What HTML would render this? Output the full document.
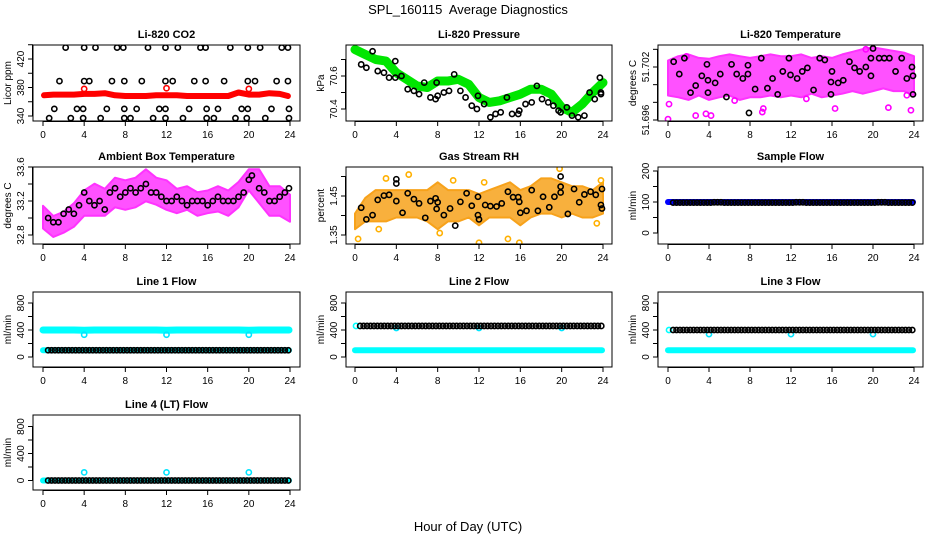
<!DOCTYPE html>
<html><head><meta charset="utf-8"><style>
html,body{margin:0;padding:0;background:#fff}
svg{display:block;font-family:"Liberation Sans",sans-serif}
</style></head><body>
<svg id="chart" width="936" height="540" viewBox="0 0 936 540" xmlns="http://www.w3.org/2000/svg">
<rect x="0" y="0" width="936" height="540" fill="#fff"/>
<text x="468" y="14" text-anchor="middle" font-size="13">SPL_160115&#160; Average Diagnostics</text>
<text x="468" y="531" text-anchor="middle" font-size="13">Hour of Day (UTC)</text>
</svg>
<script>
// ---------- data ----------
const xTicks = [0,4,8,12,16,20,24];
const bandHours = [0,1,2,3,4,5,6,7,8,9,10,11,12,13,14,15,16,17,18,19,20,21,22,23,24];

const co2BlackHours = [2.2,4,5.1,7.2,7.8,10.2,11.9,13.1,15.3,15.8,18.2,19.9,21.1,23.2,23.8, 1.6,4,4.5,6.7,7.9,9.6,11.9,12.6,14.7,15.8,17.6,19.9,20.6,22.7,23.8, 1.1,3.3,3.9,6.2,7.9,9.1,11.3,11.9,14.2,15.9,17,19.3,19.9,22.2,23.9, 0.6,2.7,3.9,5.6,7.9,8.5,10.7,11.9,13.6,15.9,16.6,18.7,19.8,21.6,23.9];
const co2BlackVals = [436,436,436,436,436,436,436,436,436,436,436,436,436,436,436, 389,389,389,389,389,389,389,389,389,389,389,389,389,389,389, 350,350,350,350,350,350,350,350,350,350,350,350,350,350,350, 337,337,337,337,337,337,337,337,337,337,337,337,337,337,337];
const co2RedVals = [369,370,370,370,371,371,372,369,368,368,368,369,369,369,368,368,368,368,368,373,370,370,372,371,368];
const co2RedSpotHours = [4,12,20];
const co2RedSpotVals = [378,379,378];

const presGreenVals = [70.76,70.73,70.70,70.69,70.62,70.58,70.54,70.53,70.57,70.57,70.58,70.55,70.47,70.44,70.45,70.47,70.49,70.52,70.52,70.49,70.41,70.38,70.43,70.50,70.56];
const presBlackHours = [0.6,1.1,1.7,2.2,2.8,3.3,3.9,3.9,4.5,5.1,5.7,6.2,6.7,7.3,7.8,7.9,8.0,8.6,9.1,9.6,10.2,10.7,11.3,11.8,11.9,12.5,13.1,13.6,14.1,14.7,15.2,15.8,15.9,16.5,17.1,17.6,18.1,18.7,19.2,19.7,19.9,20.5,21.0,21.6,22.2,22.7,23.2,23.7,23.8,23.8];
const presBlackVals = [70.67,70.65,70.75,70.63,70.62,70.59,70.59,70.69,70.60,70.52,70.51,70.49,70.56,70.47,70.46,70.56,70.48,70.50,70.51,70.61,70.51,70.47,70.42,70.40,70.48,70.43,70.35,70.37,70.38,70.47,70.37,70.37,70.39,70.43,70.44,70.54,70.46,70.44,70.42,70.39,70.38,70.41,70.36,70.35,70.36,70.50,70.46,70.59,70.49,70.50];

const tempUpper = [51.7025,51.7030,51.7032,51.7028,51.7027,51.7030,51.7032,51.7030,51.7028,51.7030,51.7032,51.7030,51.7030,51.7032,51.7028,51.7030,51.7028,51.7032,51.7035,51.7038,51.7040,51.7038,51.7036,51.7034,51.7030];
const tempLower = [51.6990,51.6988,51.6985,51.6990,51.6985,51.6988,51.6990,51.6985,51.6988,51.6988,51.6990,51.6988,51.6990,51.6988,51.6992,51.6988,51.6990,51.6992,51.6995,51.6992,51.6995,51.6998,51.6995,51.6995,51.6990];
const tempPinkHours = [0.0,0.1,2.7,3.7,4.2,9.2,9.3,16.3,21.5,23.7,19.3,23.3,1.8,6.5,13.5];
const tempPinkVals = [51.6961,51.6978,51.6965,51.6967,51.6965,51.6969,51.6973,51.6973,51.6974,51.6971,51.7040,51.6988,51.7032,51.6982,51.6984];
const tempBlackHours = [0.55,1.1,1.6,2.2,2.7,3.3,3.8,3.9,3.9,4.6,5.1,5.7,6.2,6.7,7.3,7.8,7.9,7.8,8.5,9.1,9.7,10.2,10.7,11.2,11.8,11.95,12.6,13.1,13.6,14.2,14.8,15.3,15.9,15.9,16.0,16.6,17.1,17.7,18.2,18.7,19.3,19.8,19.8,20.0,20.6,21.1,21.6,22.2,22.8,23.3,23.8,23.9,23.9];
const tempBlackVals = [51.7026,51.7012,51.7030,51.6991,51.6999,51.7010,51.7023,51.6991,51.7005,51.7002,51.7012,51.6986,51.7023,51.7012,51.7007,51.7022,51.6968,51.7012,51.6995,51.7030,51.6996,51.7007,51.6989,51.7015,51.7030,51.7011,51.7007,51.7015,51.7019,51.6994,51.7030,51.7028,51.7003,51.6989,51.7015,51.7002,51.7005,51.7026,51.7019,51.7015,51.7020,51.7010,51.7030,51.7041,51.7030,51.7030,51.7030,51.7015,51.7030,51.7007,51.7020,51.7010,51.6989];

const ambUpper = [33.12,33.00,33.05,33.15,33.30,33.38,33.32,33.45,33.42,33.45,33.55,33.45,33.42,33.32,33.35,33.28,33.30,33.35,33.30,33.40,33.55,33.55,33.35,33.35,33.25];
const ambLower = [32.90,32.80,32.85,32.92,33.05,33.05,33.05,33.15,33.12,33.15,33.22,33.18,33.12,33.08,33.12,33.05,33.08,33.10,33.05,33.15,33.35,33.20,33.05,33.05,32.98];
const ambBlackHours = [0.5,1,1.5,2,2.5,3,3.5,4,4.5,5,5.5,6,6.5,7,7.5,8,8.5,9,9.5,10,10.5,11,11.5,12,12.5,13,13.5,14,14.5,15,15.5,16,16.5,17,17.5,18,18.5,19,19.5,20,20.3,21,21.5,22,22.5,23,23.5,23.9];
const ambBlackVals = [33.0,32.95,32.95,33.05,33.1,33.05,33.15,33.3,33.2,33.15,33.2,33.1,33.3,33.35,33.25,33.3,33.35,33.3,33.35,33.4,33.3,33.3,33.25,33.2,33.2,33.25,33.2,33.15,33.2,33.2,33.2,33.15,33.2,33.25,33.2,33.2,33.2,33.25,33.3,33.45,33.5,33.35,33.3,33.2,33.2,33.25,33.3,33.35];

const rhUpper = [1.40,1.44,1.46,1.46,1.46,1.46,1.46,1.46,1.48,1.46,1.46,1.46,1.45,1.46,1.47,1.48,1.46,1.47,1.49,1.49,1.48,1.47,1.47,1.46,1.48];
const rhLower = [1.37,1.39,1.39,1.39,1.40,1.40,1.40,1.39,1.37,1.39,1.39,1.40,1.38,1.40,1.40,1.40,1.38,1.40,1.41,1.41,1.40,1.41,1.40,1.40,1.41];
const rhOrangeHours = [0.3,2.3,3,5.2,8.2,9.5,12,14.8,15.9,19.8,23.4,23.8,12.5];
const rhOrangeVals = [1.34,1.365,1.495,1.505,1.355,1.49,1.33,1.34,1.33,1.52,1.38,1.49,1.485];
const rhBlackHours = [0.6,1.1,1.7,2.2,2.8,3.3,4.0,4.0,4.0,4.6,5.1,5.7,6.2,6.8,7.3,7.8,7.9,8.0,8.6,9.2,9.7,10.2,10.8,11.3,11.9,11.9,12.0,12.6,13.1,13.7,14.2,14.8,15.3,15.8,15.9,16.0,16.6,17.1,17.7,18.2,18.8,19.3,19.9,19.9,19.9,20.6,21.2,21.7,22.2,22.8,23.3,23.8,23.9,23.9];
const rhBlackVals = [1.420,1.390,1.401,1.440,1.451,1.453,1.493,1.482,1.437,1.407,1.457,1.442,1.431,1.394,1.437,1.444,1.417,1.434,1.401,1.418,1.374,1.435,1.457,1.425,1.448,1.401,1.390,1.427,1.424,1.423,1.431,1.461,1.447,1.447,1.435,1.407,1.412,1.465,1.412,1.448,1.421,1.448,1.500,1.474,1.459,1.404,1.468,1.434,1.454,1.461,1.453,1.427,1.468,1.418];

const sampleBlueVals = [100,100,100,100,100,100,100,100,100,100,100,100,100,100,100,100,100,100,100,100,100,100,100,100,100];
const sampleBlackVals = [98,98,98,98,99,98,98,98,98,98,98,98,99,98,98,98,98,98,98,98,99,98,98,98,98];

const line1CyanHigh = [400,400,400,400,395,400,400,400,400,400,400,400,395,400,400,400,400,400,400,400,395,400,400,400,400];
const line1Cyan = [100,100,100,100,100,100,100,100,100,100,100,100,100,100,100,100,100,100,100,100,100,100,100,100,100];
const line1Black = [100,100,100,100,100,100,100,100,100,100,100,100,100,100,100,100,100,100,100,100,100,100,100,100,100];
const line1SpotVals = [330,330,330];
const line2Cyan = [100,100,100,100,100,100,100,100,100,100,100,100,100,100,100,100,100,100,100,100,100,100,100,100,100];
const line2Black = [460,460,460,460,460,460,460,460,460,460,460,460,460,460,460,460,460,460,460,460,460,460,460,460,460];
const line2SpotVals = [430,430,430];
const line3Cyan = [100,100,100,100,100,100,100,100,100,100,100,100,100,100,100,100,100,100,100,100,100,100,100,100,100];
const line3Black = [400,400,400,400,400,400,400,400,400,400,400,400,400,400,400,400,400,400,400,400,400,400,400,400,400];
const line3SpotVals = [340,340,340];
const line4Cyan = [0,0,0,0,0,0,0,0,0,0,0,0,0,0,0,0,0,0,0,0,0,0,0,0,0];
const line4Black = [0,0,0,0,0,0,0,0,0,0,0,0,0,0,0,0,0,0,0,0,0,0,0,0,0];
const line4SpotVals = [120,120,120];
const spotHours = [4,12,20];

// ---------- drawing ----------
const NS = "http://www.w3.org/2000/svg";
const svg = document.getElementById('chart');
function mk(tag, attrs, parent){
  const e = document.createElementNS(NS, tag);
  for (const k in attrs) e.setAttribute(k, attrs[k]);
  (parent || svg).appendChild(e);
  return e;
}
function panel(cfg){
  const g = mk('g', {});
  
  
  const [bx0,bx1,by0,by1] = cfg.box;
  const xs = h => cfg.x0 + (cfg.x24 - cfg.x0) * h / 24;
  const ys = v => cfg.yA + (cfg.yB - cfg.yA) * (v - cfg.vA) / (cfg.vB - cfg.vA);
  const clip = 'clip-' + cfg.name;
  const cp = mk('clipPath', {id: clip}, g);
  mk('rect', {x: bx0, y: by0, width: bx1 - bx0, height: by1 - by0}, cp);
  const plot = mk('g', {'clip-path': 'url(#' + clip + ')'}, g);
  
  
  const box = mk('rect', {x: bx0, y: by0, width: bx1 - bx0, height: by1 - by0, fill: 'none', stroke: '#000', 'stroke-width': 1}, g);
  
  
  const t = mk('text', {x: (bx0 + bx1) / 2, y: by0 - 7, 'text-anchor': 'middle', 'font-size': 11, 'font-weight': 'bold'}, g);
  t.textContent = cfg.title;
  
  
  mk('line', {x1: xs(0), x2: xs(24), y1: by1 + 0.5, y2: by1 + 0.5, stroke: '#000'}, g);
  xTicks.forEach(h => {
    mk('line', {x1: xs(h), x2: xs(h), y1: by1, y2: by1 + 5, stroke: '#000'}, g);
    const l = mk('text', {x: xs(h), y: by1 + 17, 'text-anchor': 'middle', 'font-size': 10}, g);
    l.textContent = h;
    
    
  });
  const yt = cfg.yTicks;
  mk('line', {x1: bx0 - 0.5, x2: bx0 - 0.5, y1: ys(yt[0]), y2: ys(yt[yt.length - 1]), stroke: '#000'}, g);
  yt.forEach(v => mk('line', {x1: bx0 - 5, x2: bx0, y1: ys(v), y2: ys(v), stroke: '#000'}, g));
  cfg.yLabels.forEach(v => {
    const yy = ys(v);
    const l = mk('text', {x: bx0 - 9, y: yy, 'text-anchor': 'middle', 'font-size': 10, transform: 'rotate(-90 ' + (bx0 - 9) + ' ' + yy + ')'}, g);
    l.textContent = v;
    
    
  });
  const cy = (by0 + by1) / 2, cx = bx0 - 22;
  const yl = mk('text', {x: cx, y: cy, 'text-anchor': 'middle', 'font-size': 10, transform: 'rotate(-90 ' + cx + ' ' + cy + ')'}, g);
  yl.textContent = cfg.ylab;
  
  
  return {plot, xs, ys};
}
function pts(p, hours, vals, color, name, r){
  hours.forEach((h, i) => {
    const c = mk('circle', {cx: p.xs(h), cy: p.ys(vals[i]), r: r || 2.6, fill: 'none', stroke: color, 'stroke-width': 1.6}, p.plot);
    
    
  });
}
function thick(p, hours, vals, color, w, name){
  const d = hours.map((h, i) => (i ? 'L' : 'M') + p.xs(h).toFixed(1) + ' ' + p.ys(vals[i]).toFixed(1)).join(' ');
  const e = mk('path', {d, fill: 'none', stroke: color, 'stroke-width': w, 'stroke-linejoin': 'round', 'stroke-linecap': 'round'}, p.plot);
  
  
}
function band(p, hours, up, lo, color, name){
  let d = hours.map((h, i) => (i ? 'L' : 'M') + p.xs(h).toFixed(1) + ' ' + (p.ys(up[i]) - 2).toFixed(1)).join(' ');
  for (let i = hours.length - 1; i >= 0; i--) d += ' L' + p.xs(hours[i]).toFixed(1) + ' ' + (p.ys(lo[i]) + 2).toFixed(1);
  const e = mk('path', {d: d + ' Z', fill: color, 'fill-opacity': 0.85, stroke: color, 'stroke-width': 2, 'stroke-linejoin': 'round'}, p.plot);
  
  
}
function flowDots(p, vals, color, name, startH){
  for (let i = 0; i < 24; i++) for (let k = 0; k < 3; k++) {
    const h = i + k / 3 + (startH || 0);
    if (h > 23.9) continue;
    const c = mk('circle', {cx: p.xs(h), cy: p.ys(vals[i]), r: 2.6, fill: 'none', stroke: color, 'stroke-width': 1.6}, p.plot);
    
    
  }
}

let p = panel({name:'co2', title:'Li-820 CO2', ylab:'Licor ppm', box:[33,300,45,121], x0:43, x24:290, vA:340, yA:116, vB:420, yB:59, yTicks:[340,360,380,400,420,440], yLabels:[340,380,420]});
thick(p, bandHours.map(h => Math.min(Math.max(h, 0.1), 23.8)), co2RedVals, '#ff0000', 6, 'co2-red-series');
pts(p, co2RedSpotHours, co2RedSpotVals, '#ff0000', 'co2-red-point');
pts(p, co2BlackHours, co2BlackVals, '#000', 'co2-black-point');

p = panel({name:'pressure', title:'Li-820 Pressure', ylab:'kPa', box:[346,612,45,121], x0:355, x24:603, vA:70.4, yA:109, vB:70.6, yB:76, yTicks:[70.4,70.5,70.6,70.7], yLabels:[70.4,70.6]});
thick(p, bandHours, presGreenVals, '#00e600', 9, 'pressure-green-series');
pts(p, presBlackHours, presBlackVals, '#000', 'pressure-black-point');

p = panel({name:'temperature', title:'Li-820 Temperature', ylab:'degrees C', box:[658,923,45,121], x0:668, x24:914, vA:51.696, yA:120, vB:51.702, yB:67, yTicks:[51.696,51.698,51.700,51.702,51.704], yLabels:['51.696','51.702']});
band(p, bandHours, tempUpper, tempLower, '#ff33ff', 'temperature-magenta-band');
pts(p, tempPinkHours, tempPinkVals, '#ff00ff', 'temperature-magenta-point');
pts(p, tempBlackHours, tempBlackVals, '#000', 'temperature-black-point');

p = panel({name:'ambient', title:'Ambient Box Temperature', ylab:'degrees C', box:[33,300,167,244], x0:43, x24:290, vA:32.8, yA:235, vB:33.6, yB:167, yTicks:[32.8,33.0,33.2,33.4,33.6], yLabels:['32.8','33.2','33.6']});
band(p, bandHours, ambUpper, ambLower, '#ff33ff', 'ambient-magenta-band');
pts(p, ambBlackHours, ambBlackVals, '#000', 'ambient-black-point');

p = panel({name:'rh', title:'Gas Stream RH', ylab:'percent', box:[346,612,167,244], x0:355, x24:603, vA:1.35, yA:235, vB:1.45, yB:196, yTicks:[1.35,1.40,1.45,1.50], yLabels:['1.35','1.45']});
band(p, bandHours, rhUpper, rhLower, '#f7a21b', 'rh-orange-band');
pts(p, rhOrangeHours, rhOrangeVals, '#ffb000', 'rh-orange-point');
pts(p, rhBlackHours, rhBlackVals, '#000', 'rh-black-point');

p = panel({name:'sample-flow', title:'Sample Flow', ylab:'ml/min', box:[658,923,167,244], x0:668, x24:914, vA:0, yA:233, vB:200, yB:171, yTicks:[0,50,100,150,200], yLabels:[0,100,200]});
thick(p, bandHours.map(h => Math.min(h, 23.9)), sampleBlueVals, '#0000ff', 6, 'sample-flow-blue-series');
flowDots(p, sampleBlackVals, '#000', 'sample-flow-black-point', 0.5);

const flowCfg = (name, title, box, x0, x24, yZero) => ({name, title, ylab:'ml/min', box, x0, x24, vA:0, yA:yZero, vB:800, yB:yZero - 54, yTicks:[0,200,400,600,800], yLabels:[0,400,800]});
p = panel(flowCfg('line1-flow', 'Line 1 Flow', [33,300,292,367], 43, 290, 357));
thick(p, bandHours.map(h => Math.min(h, 23.9)), line1CyanHigh, '#00ffff', 7, 'line1-cyan-high-series');
thick(p, bandHours.map(h => Math.min(h, 23.9)), line1Cyan, '#00ffff', 6, 'line1-cyan-series');
pts(p, spotHours, line1SpotVals, '#00e5ff', 'line1-cyan-point');
flowDots(p, line1Black, '#000', 'line1-black-point', 0.5);

p = panel(flowCfg('line2-flow', 'Line 2 Flow', [346,612,292,367], 355, 603, 357));
thick(p, bandHours.map(h => Math.min(h, 23.9)), line2Cyan, '#00ffff', 6, 'line2-cyan-series');
pts(p, [0.1], [460], '#00ffff', 'line2-cyan-point');
pts(p, spotHours, line2SpotVals, '#00e5ff', 'line2-cyan-point');
flowDots(p, line2Black, '#000', 'line2-black-point', 0.5);

p = panel(flowCfg('line3-flow', 'Line 3 Flow', [658,923,292,367], 668, 914, 357));
thick(p, bandHours.map(h => Math.min(h, 23.9)), line3Cyan, '#00ffff', 6, 'line3-cyan-series');
pts(p, [0.1], [400], '#00ffff', 'line3-cyan-point');
pts(p, spotHours, line3SpotVals, '#00e5ff', 'line3-cyan-point');
flowDots(p, line3Black, '#000', 'line3-black-point', 0.5);

p = panel(flowCfg('line4-flow', 'Line 4 (LT) Flow', [33,300,415,490], 43, 290, 480.5));
thick(p, bandHours.map(h => Math.min(h, 23.9)), line4Cyan, '#00ffff', 6, 'line4-cyan-series');
pts(p, spotHours, line4SpotVals, '#00e5ff', 'line4-cyan-point');
flowDots(p, line4Black, '#000', 'line4-black-point', 0.5);
</script>
</body></html>
